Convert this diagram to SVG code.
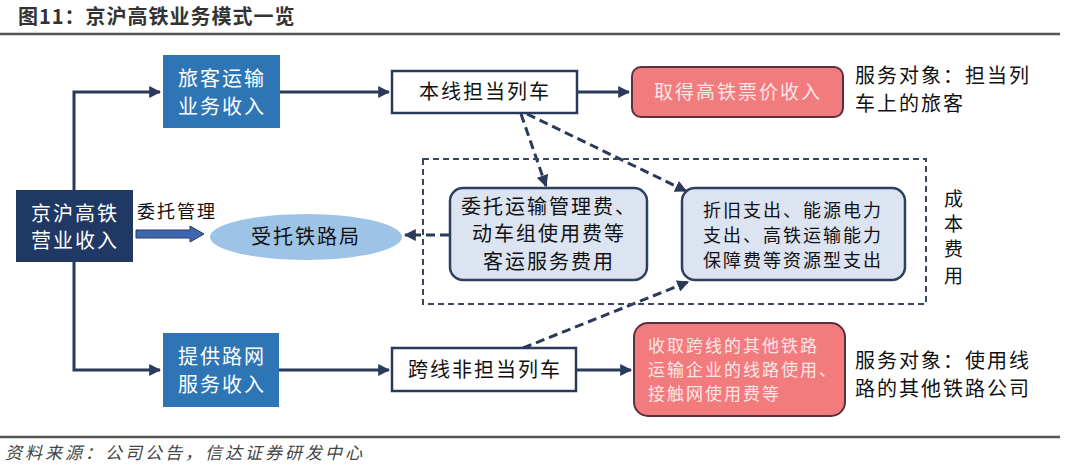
<svg xmlns="http://www.w3.org/2000/svg" width="1080" height="476" viewBox="0 0 1080 476">
<defs>
<style>
text{font-family:"Noto Sans CJK SC","Noto Sans",sans-serif;}
.t{font-size:20px;letter-spacing:2px;fill:#111;}
.r{font-size:18px;letter-spacing:2px;fill:#111;}
.v{font-size:19px;fill:#111;}
.w{font-size:20px;letter-spacing:2px;fill:#fff;}
.p{font-size:19px;letter-spacing:2px;fill:#fde6e6;}
.q{font-size:17px;letter-spacing:2px;fill:#fde6e6;}
.s{font-size:18px;letter-spacing:2px;fill:#111;}
.ln{stroke:#2b3a5a;stroke-width:3;fill:none;}
.ds{stroke:#2b3a5a;stroke-width:3;fill:none;stroke-dasharray:9 5;}
.blue{fill:#2e75b6;}
.wb{fill:#fff;stroke:#2b3a5a;stroke-width:2.5;}
.red{fill:#f27b7e;stroke:#5a3040;stroke-width:2;}
.lt{fill:#dce3f1;stroke:#2f3f60;stroke-width:2.5;}
</style>
<marker id="ah" viewBox="0 0 10 10" refX="9" refY="5" markerWidth="4" markerHeight="4" orient="auto" markerUnits="strokeWidth">
<path d="M0,0 L10,5 L0,10 z" fill="#2b3a5a"/>
</marker>
</defs>
<rect width="1080" height="476" fill="#fff"/>
<text x="18" y="24" style="font-size:20px;font-weight:bold;fill:#333;letter-spacing:1px">图11：京沪高铁业务模式一览</text>
<line x1="0" y1="34" x2="1060" y2="34" stroke="#555" stroke-width="2.5"/>
<line x1="0" y1="437" x2="1060" y2="437" stroke="#555" stroke-width="2.5"/>
<text x="5" y="459" style="font-size:17px;font-style:italic;fill:#444;letter-spacing:3px">资料来源：公司公告，信达证券研发中心</text>
<g id="connectors">
<polyline class="ln" points="74,190 74,92 160,92" marker-end="url(#ah)"/>
<polyline class="ln" points="74,262 74,370 160,370" marker-end="url(#ah)"/>
<line class="ln" x1="280" y1="92" x2="389" y2="92" marker-end="url(#ah)"/>
<line class="ln" x1="577" y1="92" x2="629" y2="92" marker-end="url(#ah)"/>
<line class="ln" x1="279" y1="370" x2="389" y2="370" marker-end="url(#ah)"/>
<line class="ln" x1="576" y1="370" x2="631" y2="370" marker-end="url(#ah)"/>
<line class="ds" x1="521" y1="114" x2="546" y2="186" marker-end="url(#ah)"/>
<line class="ds" x1="527" y1="114" x2="686" y2="191" marker-end="url(#ah)"/>
<line class="ds" x1="523" y1="348" x2="688" y2="282" marker-end="url(#ah)"/>
<line class="ds" x1="449" y1="235" x2="405" y2="235" marker-end="url(#ah)"/>
<path d="M136,230 L190,230 L190,226 L204,234 L190,242 L190,238 L136,238 z" fill="#3d68b0" stroke="#2b3a5a" stroke-width="1"/>
</g>
<g id="cost-group">
<rect x="423" y="159" width="503" height="145" fill="none" stroke="#3a4660" stroke-width="2" stroke-dasharray="6 4"/>
<text class="v" x="944" y="206">成</text>
<text class="v" x="944" y="231">本</text>
<text class="v" x="944" y="256">费</text>
<text class="v" x="944" y="283">用</text>
</g>
<g id="n-main">
<rect x="16" y="190" width="117" height="72" fill="#203864"/>
<text class="w" x="75" y="221" text-anchor="middle">京沪高铁</text>
<text class="w" x="75" y="248" text-anchor="middle">营业收入</text>
</g>
<g id="n-passenger">
<rect class="blue" x="163" y="55" width="117" height="73"/>
<text class="w" x="222" y="86" text-anchor="middle">旅客运输</text>
<text class="w" x="222" y="114" text-anchor="middle">业务收入</text>
</g>
<g id="n-network">
<rect class="blue" x="163" y="333" width="116" height="74"/>
<text class="w" x="222" y="364" text-anchor="middle">提供路网</text>
<text class="w" x="222" y="392" text-anchor="middle">服务收入</text>
</g>
<g id="n-local">
<rect class="wb" x="392" y="71" width="185" height="42"/>
<text class="t" x="485" y="99" text-anchor="middle">本线担当列车</text>
</g>
<g id="n-cross">
<rect class="wb" x="392" y="348" width="184" height="43"/>
<text class="t" x="485" y="377" text-anchor="middle">跨线非担当列车</text>
</g>
<g id="n-ticket">
<rect class="red" x="632" y="67" width="211" height="50" rx="9"/>
<text class="p" x="738" y="99" text-anchor="middle">取得高铁票价收入</text>
</g>
<g id="n-fee">
<rect class="red" x="634" y="323" width="211" height="93" rx="14"/>
<text class="q" x="648" y="352">收取跨线的其他铁路</text>
<text class="q" x="648" y="376">运输企业的线路使用、</text>
<text class="q" x="648" y="400">接触网使用费等</text>
</g>
<g id="n-entrust-label">
<text class="s" x="137" y="218">委托管理</text>
</g>
<g id="n-bureau">
<ellipse cx="306" cy="237" rx="96" ry="23" fill="#9dc3e6"/>
<text class="t" x="306" y="244" text-anchor="middle">受托铁路局</text>
</g>
<g id="n-service-cost">
<rect class="lt" x="450" y="188" width="197" height="92" rx="13"/>
<text class="t" x="549" y="214" text-anchor="middle">委托运输管理费、</text>
<text class="t" x="549" y="241" text-anchor="middle">动车组使用费等</text>
<text class="t" x="549" y="269" text-anchor="middle">客运服务费用</text>
</g>
<g id="n-resource-cost">
<rect class="lt" x="682" y="188" width="223" height="92" rx="13"/>
<text class="r" x="793" y="217" text-anchor="middle">折旧支出、能源电力</text>
<text class="r" x="793" y="242" text-anchor="middle">支出、高铁运输能力</text>
<text class="r" x="793" y="267" text-anchor="middle">保障费等资源型支出</text>
</g>
<g id="n-target1">
<text class="t" x="855" y="83">服务对象：担当列</text>
<text class="t" x="855" y="111">车上的旅客</text>
</g>
<g id="n-target2">
<text class="t" x="855" y="368">服务对象：使用线</text>
<text class="t" x="855" y="396">路的其他铁路公司</text>
</g>
</svg>
